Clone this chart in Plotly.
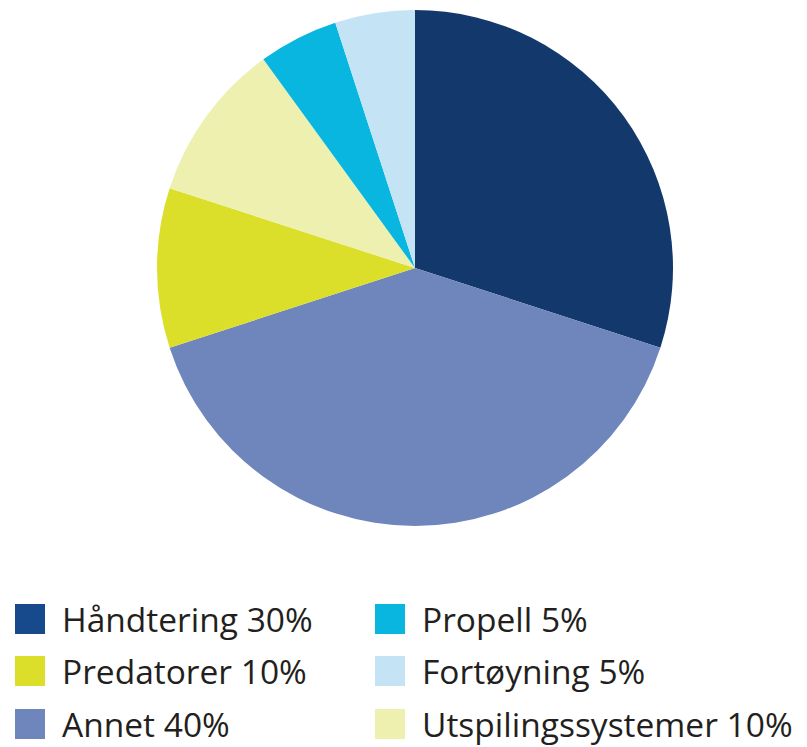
import plotly.graph_objects as go

# Data (clockwise from 12 o'clock)
labels = ["Håndtering", "Annet", "Predatorer", "Utspilingssystemer", "Propell", "Fortøyning"]
values = [30, 40, 10, 10, 5, 5]
colors = ["#13386b", "#6e86bb", "#dcdf2a", "#eef0b0", "#09b6e0", "#c4e4f5"]

# Legend layout order (row-major, two columns)
legend_order = ["Håndtering", "Propell", "Predatorer", "Fortøyning", "Annet", "Utspilingssystemer"]
legend_colors = {"Håndtering": "#174a8c", "Annet": "#6e86bb", "Predatorer": "#dcdf2a",
                 "Utspilingssystemer": "#eef0b0", "Propell": "#09b6e0", "Fortøyning": "#c4e4f5"}

# page body has an 8px margin; size the figure to fit the window
OFF = 8
W, H = 807 - OFF, 747 - OFF
cx, cy, r = 415 - OFF, 268 - OFF, 258

fig = go.Figure(go.Pie(
    labels=labels, values=values, sort=False, direction="clockwise", rotation=0,
    marker=dict(colors=colors, line=dict(width=0)),
    textinfo="none", hoverinfo="label+percent", showlegend=False,
    domain=dict(x=[(cx - r) / W, (cx + r) / W], y=[(H - cy - r) / H, (H - cy + r) / H]),
))

shapes = []
annotations = []
col_x = [15 - OFF, 375 - OFF]
row_y = [619 - OFF, 671 - OFF, 724 - OFF]
sq = 30
for i, name in enumerate(legend_order):
    row, col = divmod(i, 2)
    x0 = col_x[col]
    yc = row_y[row]
    shapes.append(dict(type="rect", xref="paper", yref="paper",
                       x0=x0 / W, x1=(x0 + sq) / W,
                       y0=(H - yc - sq / 2) / H, y1=(H - yc + sq / 2) / H,
                       fillcolor=legend_colors[name], line=dict(width=0)))
    pct = values[labels.index(name)]
    annotations.append(dict(xref="paper", yref="paper", x=(x0 + 45) / W, y=(H - yc) / H,
                            xanchor="left", yanchor="middle", showarrow=False,
                            text=f"{name} {pct}%",
                            font=dict(family="Open Sans", size=33.5, color="#231f20")))

fig.update_layout(width=W, height=H, margin=dict(l=0, r=0, t=0, b=0),
                  paper_bgcolor="white", plot_bgcolor="white",
                  shapes=shapes, annotations=annotations)
fig.write_html("out.html")
